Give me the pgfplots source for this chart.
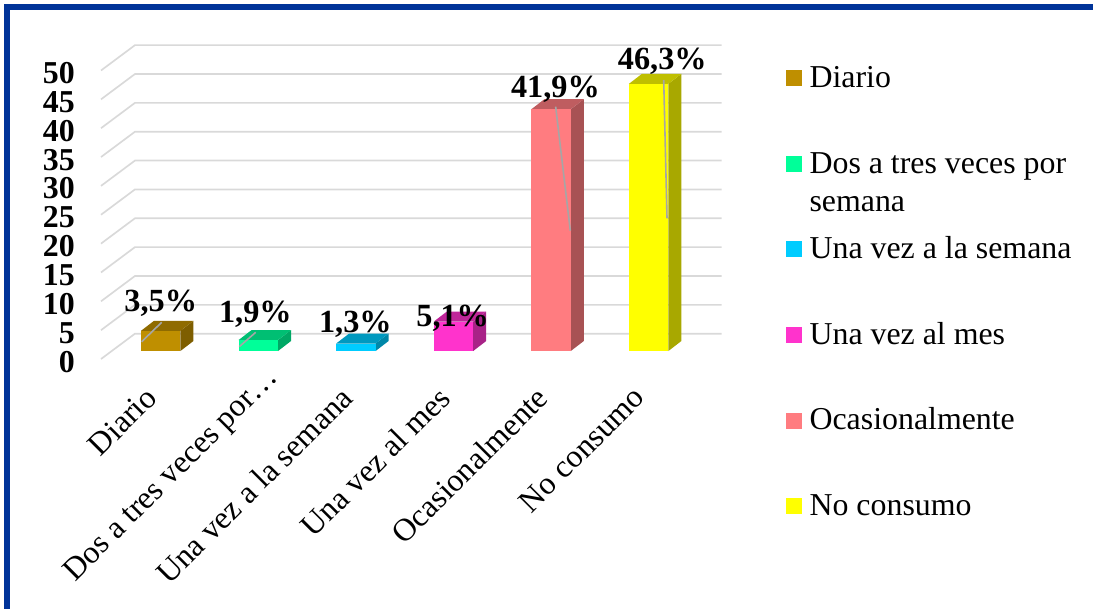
\documentclass[border=0pt]{standalone}
\usepackage{pgfplots}
\usepackage{fontspec}
\setmainfont{Liberation Serif}
\pgfplotsset{compat=1.18}

\definecolor{frameblue}{RGB}{0,51,153}
\definecolor{gridgray}{RGB}{217,217,217}
\definecolor{leader}{RGB}{166,166,166}
\definecolor{cA}{RGB}{191,143,0}   \definecolor{cAt}{RGB}{143,107,0}  \definecolor{cAs}{RGB}{126,94,0}
\definecolor{cB}{RGB}{0,255,153}   \definecolor{cBt}{RGB}{0,191,115}  \definecolor{cBs}{RGB}{0,168,101}
\definecolor{cC}{RGB}{0,204,255}   \definecolor{cCt}{RGB}{0,153,191}  \definecolor{cCs}{RGB}{0,135,168}
\definecolor{cD}{RGB}{255,51,204}  \definecolor{cDt}{RGB}{191,38,153} \definecolor{cDs}{RGB}{168,34,135}
\definecolor{cE}{RGB}{255,124,128} \definecolor{cEt}{RGB}{191,93,96}  \definecolor{cEs}{RGB}{168,82,84}
\definecolor{cF}{RGB}{255,255,0}   \definecolor{cFt}{RGB}{191,191,0}  \definecolor{cFs}{RGB}{168,168,0}

\newcommand{\chartfont}{\fontsize{23.9}{28.5}\selectfont}
\newcommand{\valuefont}{\fontsize{24.2}{28.5}\selectfont\bfseries}

% Front face, side face and top face of one bar: position, value, colour stem, legend text
\newcommand{\solidbar}[4]{%
  \addplot[forget plot, draw=none, fill=#3s] coordinates
    {({#1+0.202},0) ({#1+0.335},1.73) ({#1+0.335},{#2+1.73}) ({#1+0.202},#2)} -- cycle;
  \addplot[forget plot, draw=none, fill=#3t] coordinates
    {({#1-0.202},#2) ({#1+0.202},#2) ({#1+0.335},{#2+1.73}) ({#1-0.069},{#2+1.73})} -- cycle;
  \addplot[ybar, bar width=0.404, bar shift=0pt, draw=none, fill=#3] coordinates {(#1,#2)};
  \addlegendentry{#4}
}

\begin{document}
\begin{tikzpicture}
\path[use as bounding box] (0,0) rectangle (819.75pt,456pt);
\begin{axis}[
  at={(75.75pt,192.75pt)}, anchor=south west,
  scale only axis, width=465.5pt, height=216.4pt,
  xmin=-0.612, xmax=5.748, ymin=0, ymax=50,
  clip=false,
  axis line style={draw=none},
  tick style={draw=none},
  major tick length=0pt,
  xtick={0,1,2,3,4,5},
  xticklabels={Diario,Dos a tres veces por…,Una vez a la semana,Una vez al mes,Ocasionalmente,No consumo},
  xticklabel style={font=\chartfont,
    xshift={-12.9+(\ticknum==1)*17.5},
    yshift={-25.1+(\ticknum==1)*15.8},
    rotate=45, anchor=north east, inner sep=0pt},
  ytick={0,5,...,50},
  /pgf/number format/assume math mode=true,
  yticklabel style={font=\chartfont\bfseries, anchor=east, inner sep=0pt, xshift=-19.5pt, yshift=-8pt},
  legend style={at={(1.1036,1.0066)}, anchor=north west, draw=none, fill=none, inner sep=0pt,
    font=\chartfont, row sep=42.75pt, column sep=5.5pt, nodes={inner sep=0pt}},
  legend cell align=left,
  legend image code/.code={\fill[#1] (0pt,-8.25pt) rectangle (12pt,3.75pt);},
]
% Wall and floor grid lines, one bent line per axis value
\addplot[forget plot, gridgray, line width=1.25pt] coordinates {(-0.612,-1.39) (-0.264,3) (5.748,3)};
\addplot[forget plot, gridgray, line width=1.25pt] coordinates {(-0.612,3.61) (-0.264,8) (5.748,8)};
\addplot[forget plot, gridgray, line width=1.25pt] coordinates {(-0.612,8.61) (-0.264,13) (5.748,13)};
\addplot[forget plot, gridgray, line width=1.25pt] coordinates {(-0.612,13.61) (-0.264,18) (5.748,18)};
\addplot[forget plot, gridgray, line width=1.25pt] coordinates {(-0.612,18.61) (-0.264,23) (5.748,23)};
\addplot[forget plot, gridgray, line width=1.25pt] coordinates {(-0.612,23.61) (-0.264,28) (5.748,28)};
\addplot[forget plot, gridgray, line width=1.25pt] coordinates {(-0.612,28.61) (-0.264,33) (5.748,33)};
\addplot[forget plot, gridgray, line width=1.25pt] coordinates {(-0.612,33.61) (-0.264,38) (5.748,38)};
\addplot[forget plot, gridgray, line width=1.25pt] coordinates {(-0.612,38.61) (-0.264,43) (5.748,43)};
\addplot[forget plot, gridgray, line width=1.25pt] coordinates {(-0.612,43.61) (-0.264,48) (5.748,48)};
\addplot[forget plot, gridgray, line width=1.25pt] coordinates {(-0.612,48.61) (-0.264,53) (5.748,53)};

\solidbar{0}{3.5}{cA}{Diario\strut}
\solidbar{1}{1.9}{cB}{\smash{\parbox[t]{220pt}{Dos a tres veces por\\semana}}\strut}
\solidbar{2}{1.3}{cC}{Una vez a la semana\strut}
\solidbar{3}{5.1}{cD}{Una vez al mes\strut}
\solidbar{4}{41.9}{cE}{Ocasionalmente\strut}
\solidbar{5}{46.3}{cF}{No consumo\strut}

% Leader lines from the value labels to their bars
\addplot[forget plot, leader, line width=1.2pt] coordinates {(-0.195,1.61) (0.010,4.97)};
\addplot[forget plot, leader, line width=1.2pt] coordinates {(0.805,0.745) (0.973,3.24)};
\addplot[forget plot, leader, line width=1.2pt] coordinates {(4.047,42.34) (4.197,20.85)};
\addplot[forget plot, leader, line width=1.2pt] coordinates {(5.154,46.97) (5.188,23.0)};

% Value labels
\begin{scope}[every node/.style={font=\valuefont, anchor=base, inner sep=0pt}]
\node at (axis cs:0,6.82) {3,5\%};
\node at (axis cs:0.97,4.94) {1,9\%};
\node at (axis cs:1.995,3.17) {1,3\%};
\node at (axis cs:2.992,4.33) {5,1\%};
\node at (axis cs:4.045,44.0) {41,9\%};
\node at (axis cs:5.14,48.7) {46,3\%};
\end{scope}
\end{axis}
% Blue frame running off the right and bottom edges
\draw[frameblue, line width=4.5pt] (5.25pt,-2pt) -- (5.25pt,450.75pt) -- (822pt,450.75pt);
\end{tikzpicture}
\end{document}
